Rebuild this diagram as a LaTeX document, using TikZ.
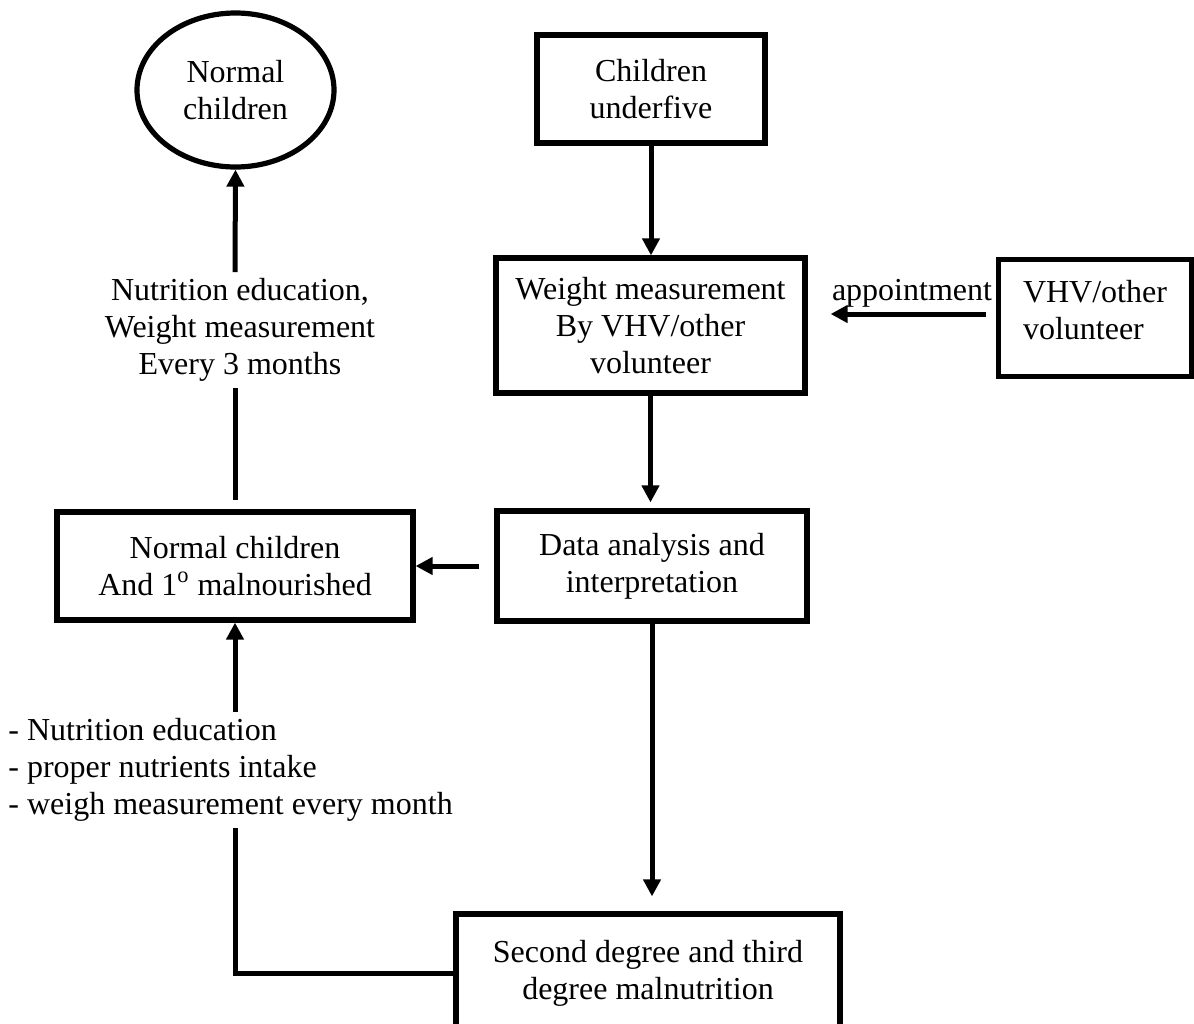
\documentclass[tikz,border=0pt]{standalone}
\usepackage{fontspec}
\setmainfont{Liberation Serif}
\usepackage{tikz}
\usetikzlibrary{arrows.meta, positioning, shapes.geometric}

\begin{document}
\begin{tikzpicture}[
    x=0.5pt, y=-0.5pt,
    txt/.style={font=\fontsize{16}{18.5}\selectfont, align=center, inner sep=3pt},
    box/.style={txt, draw, line width=2.6pt},
    oval/.style={txt, ellipse, draw, line width=2.6pt, inner sep=0pt},
    line/.style={line width=2.5pt},
    arr/.style={line, -{Triangle[length=8.5pt, width=8.5pt]}}
]
\useasboundingbox (0,0) rectangle (1194,1023);

% Main column
\node[box, minimum width=114pt, minimum height=54pt] (under5) at (651,89) {Children\\underfive};
\node[box, minimum width=154.5pt, minimum height=67.5pt] (weigh) at (650.5,325.5) {Weight measurement\\By VHV/other\\volunteer};
\node[box, minimum width=155pt, minimum height=55pt] (data) at (652,566) {Data analysis and\\interpretation};
\node[box, minimum width=192pt, minimum height=59pt] (malnut) at (648,973) {Second degree and third\\degree malnutrition};

% Volunteer
\node[box, align=left, text depth=8pt, minimum width=96.5pt, minimum height=58.5pt] (vhv) at (1095,318) {VHV/other\\volunteer};
\node[txt] (appt) at (912,293) {appointment};
\coordinate (apptlvl) at (0,314);

% Left column
\node[oval, minimum width=98.5pt, minimum height=77pt] (normell) at (235.5,90) {Normal\\children};
\node[txt] (rule3) at (240,330) {Nutrition education,\\Weight measurement\\Every 3 months};
\node[box, minimum width=178pt, minimum height=54pt] (normbox) at (235,566) {Normal children\\And 1\textsuperscript{o} malnourished};
\node[txt, align=left, anchor=west] (monthly) at (2,770) {- Nutrition education\\- proper nutrients intake\\- weigh measurement every month};

% Connectors
\draw[arr] (under5.south) -- (under5.south |- weigh.north);
\draw[arr, shorten <=5pt, shorten >=11.5pt] (vhv.west |- apptlvl) -- (weigh.east |- apptlvl);
\draw[arr, shorten >=3pt] (weigh.south) -- (weigh.south |- data.north);
\draw[arr, shorten <=7.5pt] (data.west) -- (normbox.east);
\draw[arr, shorten >=7.5pt] (data.south) -- (data.south |- malnut.north);
\draw[line, shorten <=4.5pt] (normbox.north) -- (normbox.north |- rule3.south);
\draw[arr] (normbox.north |- rule3.north) -- (normell.south);
\draw[arr] (normbox.south |- monthly.north) -- (normbox.south);
\draw[line] (normbox.south |- monthly.south) |- (malnut.west);

\end{tikzpicture}
\end{document}
